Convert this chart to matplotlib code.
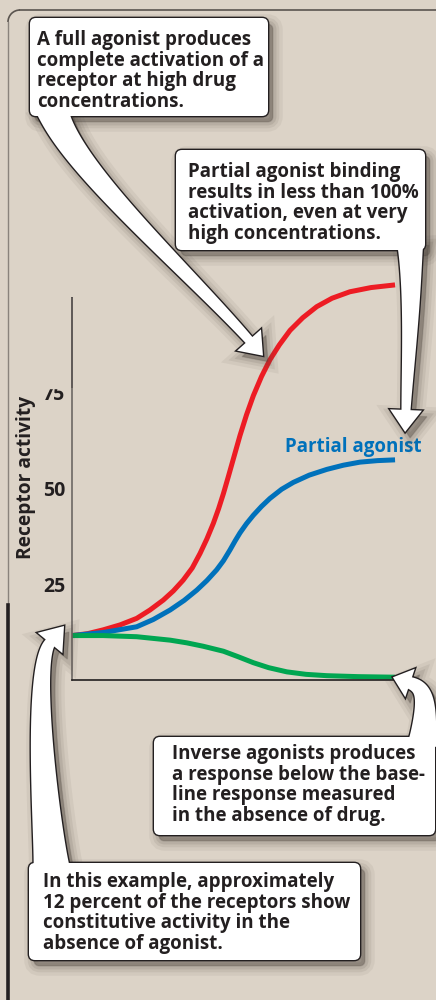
import matplotlib

matplotlib.use("Agg")
import matplotlib.pyplot as plt
import numpy as np
from matplotlib.patches import Arc, FancyBboxPatch, PathPatch, Rectangle
from matplotlib.path import Path

# drug concentration (arbitrary units, no ticks) vs receptor activity (%)
full_x = [0, 4.8, 9.6, 14.8, 19.9, 24.0, 28.1, 31.2, 34.2, 37.0, 39.4, 41.5, 43.5, 45.1, 46.6, 48.1,
          49.6, 51.7, 53.7, 55.8, 58.3, 60.9, 63.8, 67.1, 71.0, 75.3, 80.0, 85.5, 92.0, 99.4]
full_y = [11.5, 12.0, 13.0, 14.3, 16.0, 18.2, 20.8, 23.2, 26.0, 29.2, 33.0, 36.8, 40.9, 44.7, 48.7, 53.1,
          57.6, 63.9, 69.3, 74.3, 79.3, 83.7, 87.6, 91.4, 94.7, 97.6, 99.8, 101.5, 102.6, 103.3]
partial_x = [0, 9.6, 19.9, 25.0, 30.2, 34.5, 38.4, 41.5, 44.5, 46.6, 48.6, 50.2, 51.7, 53.7, 55.8, 58.3,
             60.9, 64.5, 68.1, 73.0, 78.4, 83.5, 88.6, 94.0, 99.4]
partial_y = [11.5, 12.3, 13.8, 15.7, 18.2, 20.7, 23.4, 25.9, 28.7, 31.1, 33.9, 36.3, 38.4, 40.8, 43.0, 45.3,
             47.4, 49.8, 51.6, 53.5, 55.0, 56.1, 56.9, 57.3, 57.5]
inverse_x = [0, 9.6, 19.9, 30.2, 35.3, 40.4, 46.6, 51.0, 55.8, 60.5, 66.1, 72.0, 78.4, 88.0, 99.4]
inverse_y = [11.5, 11.5, 11.2, 10.3, 9.6, 8.7, 7.4, 6.0, 4.4, 3.1, 2.0, 1.35, 1.0, 0.75, 0.6]
ytick_vals = [25, 50, 75]
ytick_labels = ["25", "50", "75"]

notes = [
    "A full agonist produces\ncomplete activation of a\nreceptor at high drug\nconcentrations.",
    "Partial agonist binding\nresults in less than 100%\nactivation, even at very\nhigh concentrations.",
    "Inverse agonists produces\na response below the base-\nline response measured\nin the absence of drug.",
    "In this example, approximately\n12 percent of the receptors show\nconstitutive activity in the\nabsence of agonist.",
]

BG = "#dcd3c7"
INK = "#231f20"
RED = "#ed1c24"
BLUE = "#0071bb"
GREEN = "#00a651"
SHADOW = "#4f473f"
FONT = ["Open Sans", "DejaVu Sans"]
FS = 13.5

W, H = 436, 1000
fig = plt.figure(figsize=(W / 100, H / 100), dpi=100, facecolor=BG)

# main chart, placed in pixel terms
y0_px, px_per_unit, ytop = 679.5, 3.82, 106
ax = fig.add_axes([72 / W, 1 - y0_px / H, 325 / W, ytop * px_per_unit / H])
ax.set_facecolor("none")
for xs, ys, c in ((full_x, full_y, RED), (partial_x, partial_y, BLUE), (inverse_x, inverse_y, GREEN)):
    ax.plot(xs, ys, color=c, lw=3.6, solid_capstyle="butt", solid_joinstyle="round")
ax.set_xlim(0, 100)
ax.set_ylim(0, ytop)
ax.set_xticks([])
ax.set_yticks(ytick_vals, ytick_labels)
ax.tick_params(axis="y", length=0, pad=5)
for lab in ax.get_yticklabels():
    lab.set_fontfamily(FONT)
    lab.set_fontweight("bold")
    lab.set_fontsize(14)
    lab.set_color(INK)
ax.spines[["top", "right"]].set_visible(False)
ax.spines["left"].set_bounds(0, 100)
ax.spines["left"].set_color("#6d6764")
ax.spines["bottom"].set_color(INK)
for sp in ("left", "bottom"):
    ax.spines[sp].set_linewidth(1.2)
ax.plot([0, 0], [76.5, 100], color=INK, lw=1.4, clip_on=False)
ax.set_ylabel("Receptor activity", fontfamily=FONT, fontweight="bold", fontsize=13.8, color=INK)
ax.yaxis.set_label_coords(-0.112, 0.5)
ax.text(107.7, 59.6, "Partial agonist", color=BLUE, fontfamily=FONT, fontweight="bold",
        fontsize=FS, ha="right", va="baseline")

# overlay in pixel coordinates for the callouts
ov = fig.add_axes([0, 0, 1, 1], zorder=5)
ov.set_xlim(0, W)
ov.set_ylim(H, 0)
ov.axis("off")
ov.patch.set_alpha(0)

# panel border
ov.plot([8, 8], [22, 605], color="#8a837c", lw=1.0)
ov.plot([8, 8], [605, 1000], color=INK, lw=2.6)
ov.plot([20, 436], [10, 10], color="#5a544f", lw=1.2)
ov.add_patch(Arc((20, 22), 24, 24, theta1=180, theta2=270, color="#5a544f", lw=1.2))
# clipped top of the "75" label
ov.add_patch(Rectangle((36, 372), 33, 15.5, color=BG, zorder=3))


def arrow_path(p0, p1, p2, p3, w0, w1, head_len, head_w):
    t = np.linspace(0, 1, 60)[:, None]
    p0, p1, p2, p3 = map(np.asarray, (p0, p1, p2, p3))
    pts = (1 - t) ** 3 * p0 + 3 * (1 - t) ** 2 * t * p1 + 3 * (1 - t) * t ** 2 * p2 + t ** 3 * p3
    d = 3 * (1 - t) ** 2 * (p1 - p0) + 6 * (1 - t) * t * (p2 - p1) + 3 * t ** 2 * (p3 - p2)
    d = d / np.linalg.norm(d, axis=1, keepdims=True)
    n = np.column_stack([-d[:, 1], d[:, 0]])
    w = (w0 + (w1 - w0) * t ** 0.6) / 2
    left = pts + n * w
    right = pts - n * w
    tip = p3 + d[-1] * head_len
    hl = p3 + n[-1] * head_w / 2
    hr = p3 - n[-1] * head_w / 2
    verts = np.vstack([left, hl, tip, hr, right[::-1], left[:1]])
    return Path(verts, closed=True)


def soft_shadow(path=None, box=None, off=(5, 6)):
    for lw, a in ((14, 0.07), (9, 0.09), (5, 0.12), (1, 0.18)):
        if box is not None:
            x, y, w, h = box
            ov.add_patch(FancyBboxPatch((x + off[0], y + off[1]), w, h, boxstyle="round,pad=0,rounding_size=6",
                                        fc=SHADOW, ec=SHADOW, lw=lw, alpha=a, zorder=1))
        else:
            p = Path(path.vertices + np.array(off), path.codes)
            ov.add_patch(PathPatch(p, fc=SHADOW, ec=SHADOW, lw=lw, alpha=a, zorder=1))


boxes = [(30, 18, 238, 98), (176, 150, 249, 100), (154, 737, 281, 98), (29, 863, 331, 97)]
text_pos = [(37, 30), (188, 162), (172, 744), (43, 872)]
arrows = [
    arrow_path((52, 108), (68, 165), (185, 268), (249, 340), 34, 9, 21, 32),
    arrow_path((410, 240), (413, 300), (408, 360), (406, 410), 28, 9, 22, 32),
    arrow_path((422, 745), (428, 700), (425, 688), (410, 683), 30, 12, 18, 30),
    arrow_path((52, 872), (40, 760), (36, 660), (50, 643), 38, 11, 22, 32),
]

for path in arrows:
    soft_shadow(path=path)
for b in boxes:
    soft_shadow(box=b)
for path in arrows:
    ov.add_patch(PathPatch(path, fc="white", ec=INK, lw=2.0, zorder=2))
for x, y, w, h in boxes:
    ov.add_patch(FancyBboxPatch((x, y), w, h, boxstyle="round,pad=0,rounding_size=6",
                                fc="white", ec=INK, lw=2.0, zorder=2))
for path in arrows:
    ov.add_patch(PathPatch(path, fc="white", ec="none", zorder=3))
for x, y, w, h in boxes:
    ov.add_patch(FancyBboxPatch((x, y), w, h, boxstyle="round,pad=0,rounding_size=6",
                                fc="white", ec="none", zorder=3))
for (tx, ty), note in zip(text_pos, notes):
    ov.text(tx, ty, note, fontfamily=FONT, fontweight="bold", fontsize=FS, color=INK,
            ha="left", va="top", linespacing=1.04, zorder=4)

fig.savefig("out.png", dpi=100, facecolor=BG)
